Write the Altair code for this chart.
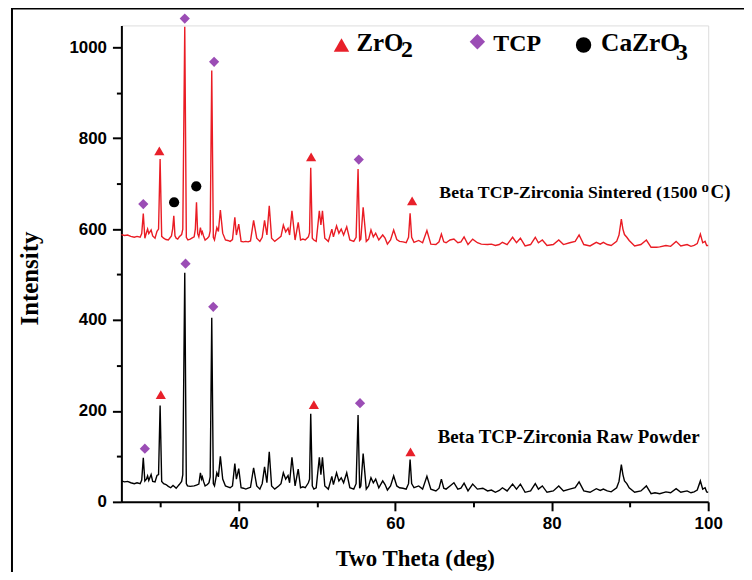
import altair as alt
import pandas as pd

# ---------------- data ----------------
raw_powder = [
    (25.0, 46), (25.4, 44), (25.8, 45), (26.2, 42), (26.65, 40), (27.0, 42), (27.4, 40), (27.6, 48),
    (27.8, 97), (28.0, 46), (28.2, 50), (28.35, 57), (28.5, 47), (28.8, 60), (29.0, 45), (29.3, 44),
    (29.55, 58), (29.75, 60), (29.95, 212), (30.15, 45), (30.4, 40), (30.7, 38), (31.0, 34), (31.3, 31),
    (31.6, 36), (31.8, 33), (32.0, 30), (32.2, 34), (32.4, 38), (32.7, 45), (32.85, 60), (33.1, 504),
    (33.3, 40), (33.45, 35), (33.8, 34), (34.3, 35), (34.6, 37), (34.9, 39), (35.1, 64), (35.25, 50),
    (35.35, 55), (35.5, 45), (35.7, 35), (36.0, 38), (36.2, 42), (36.35, 55), (36.55, 405), (36.75, 40),
    (36.9, 35), (37.2, 64), (37.4, 55), (37.65, 100), (37.95, 50), (38.3, 35), (38.6, 33), (38.9, 31),
    (39.2, 35), (39.5, 84), (39.7, 50), (40.0, 73), (40.3, 31), (40.6, 30), (40.9, 28), (41.2, 30),
    (41.5, 32), (41.9, 75), (42.3, 35), (42.7, 28), (43.0, 40), (43.3, 77), (43.6, 42), (43.9, 110),
    (44.2, 35), (44.6, 28), (45.1, 35), (45.4, 40), (45.7, 64), (46.0, 50), (46.3, 58), (46.5, 42),
    (46.8, 98), (47.2, 35), (47.6, 72), (47.9, 31), (48.2, 33), (48.5, 31), (48.9, 42), (49.05, 50),
    (49.2, 194), (49.4, 35), (49.6, 28), (49.9, 31), (50.3, 98), (50.5, 60), (50.7, 98), (51.0, 35),
    (51.45, 28), (51.9, 56), (52.1, 38), (52.5, 64), (52.8, 46), (53.1, 53), (53.4, 42), (53.8, 64),
    (54.2, 31), (54.7, 28), (55.0, 40), (55.25, 191), (55.45, 30), (55.6, 35), (55.9, 106), (56.3, 28),
    (56.6, 35), (56.9, 53), (57.2, 42), (57.5, 50), (57.9, 31), (58.4, 46), (58.7, 38), (59.0, 26),
    (59.4, 35), (59.8, 57), (60.2, 35), (60.55, 31), (61.0, 30), (61.4, 28), (61.7, 40), (61.9, 93),
    (62.1, 40), (62.4, 31), (63.0, 35), (63.5, 28), (64.05, 56), (64.55, 28), (65.2, 24), (65.6, 30),
    (65.9, 50), (66.2, 30), (66.5, 28), (67.0, 35), (67.5, 42), (68.0, 28), (68.4, 30), (68.8, 41),
    (69.3, 24), (69.9, 39), (70.5, 28), (71.2, 30), (71.8, 24), (72.3, 26), (72.8, 21), (73.3, 25),
    (73.7, 31), (74.3, 24), (75.0, 39), (75.5, 28), (76.0, 39), (76.6, 21), (77.3, 24), (77.9, 40),
    (78.3, 28), (78.8, 35), (79.4, 21), (80.2, 24), (80.9, 35), (81.5, 24), (82.3, 28), (83.0, 31),
    (83.5, 44), (84.1, 24), (84.9, 21), (85.7, 29), (86.2, 25), (86.6, 28), (87.1, 24), (87.6, 22),
    (88.3, 31), (88.6, 45), (88.9, 82), (89.1, 60), (89.3, 46), (89.6, 40), (89.9, 31), (90.6, 21),
    (91.4, 24), (92.1, 35), (92.7, 18), (93.2, 20), (93.8, 18), (94.6, 22), (95.2, 20), (95.9, 29),
    (96.5, 21), (97.3, 24), (97.8, 20), (98.2, 22), (98.6, 26), (99.0, 46), (99.3, 28), (99.6, 31),
    (99.8, 22), (100.0, 21),
]

sintered = [
    (25.0, 588), (25.4, 586), (25.8, 587), (26.2, 584), (26.65, 582), (27.0, 584), (27.4, 582), (27.6, 590),
    (27.8, 634), (28.0, 580), (28.2, 592), (28.35, 600), (28.5, 590), (28.8, 598), (29.0, 585), (29.3, 580),
    (29.55, 595), (29.75, 600), (29.95, 754), (30.15, 584), (30.4, 580), (30.7, 577), (31.0, 576), (31.4, 585),
    (31.55, 600), (31.7, 629), (31.85, 585), (32.0, 580), (32.2, 578), (32.4, 583), (32.7, 588), (32.85, 600),
    (33.1, 1045), (33.3, 582), (33.5, 576), (33.8, 578), (34.0, 580), (34.3, 583), (34.45, 600), (34.6, 659),
    (34.75, 590), (34.9, 583), (35.1, 603), (35.25, 590), (35.35, 594), (35.5, 585), (35.7, 576), (36.0, 580),
    (36.2, 584), (36.35, 596), (36.55, 949), (36.75, 582), (36.9, 576), (37.2, 603), (37.4, 595), (37.65, 642),
    (37.95, 591), (38.3, 576), (38.6, 575), (38.9, 573), (39.2, 577), (39.5, 626), (39.7, 587), (40.0, 611),
    (40.3, 573), (40.6, 572), (40.9, 573), (41.2, 572), (41.5, 574), (41.9, 619), (42.3, 580), (42.7, 573),
    (43.0, 582), (43.3, 619), (43.6, 587), (43.9, 651), (44.2, 580), (44.6, 573), (45.1, 580), (45.4, 584),
    (45.7, 609), (46.0, 594), (46.3, 602), (46.5, 587), (46.8, 640), (47.2, 576), (47.6, 615), (47.9, 576),
    (48.2, 578), (48.5, 576), (48.9, 583), (49.05, 592), (49.2, 735), (49.4, 580), (49.6, 576), (49.9, 573),
    (50.3, 640), (50.5, 609), (50.7, 640), (51.0, 580), (51.45, 573), (51.9, 600), (52.1, 583), (52.5, 607),
    (52.8, 591), (53.1, 600), (53.4, 587), (53.8, 605), (54.2, 576), (54.7, 573), (55.0, 582), (55.25, 732),
    (55.45, 575), (55.6, 578), (55.9, 648), (56.3, 573), (56.6, 578), (56.9, 598), (57.2, 583), (57.5, 591),
    (57.9, 576), (58.4, 587), (58.7, 580), (59.0, 567), (59.4, 576), (59.8, 598), (60.2, 577), (60.55, 573),
    (61.0, 572), (61.4, 570), (61.7, 582), (61.9, 635), (62.1, 582), (62.4, 571), (63.0, 575), (63.5, 570),
    (64.05, 597), (64.55, 567), (65.2, 566), (65.6, 572), (65.9, 589), (66.2, 572), (66.5, 570), (67.0, 576),
    (67.5, 578), (68.0, 570), (68.4, 572), (68.8, 583), (69.3, 566), (69.9, 578), (70.5, 570), (71.0, 567),
    (71.8, 566), (72.3, 567), (72.8, 564), (73.3, 566), (73.7, 571), (74.3, 566), (75.0, 582), (75.5, 570),
    (76.0, 580), (76.6, 563), (77.3, 566), (77.9, 582), (78.3, 570), (78.8, 576), (79.4, 564), (80.2, 566),
    (80.9, 576), (81.5, 566), (82.3, 570), (83.0, 573), (83.5, 587), (84.1, 566), (84.9, 563), (85.7, 571),
    (86.2, 567), (86.6, 571), (87.1, 566), (87.6, 564), (88.3, 573), (88.6, 587), (88.9, 622), (89.1, 600),
    (89.3, 588), (89.6, 582), (89.9, 575), (90.6, 563), (91.4, 566), (92.1, 576), (92.7, 560), (93.4, 560),
    (93.8, 561), (94.6, 564), (95.2, 562), (95.9, 573), (96.5, 563), (97.3, 566), (97.8, 562), (98.2, 564),
    (98.6, 568), (99.0, 589), (99.3, 570), (99.6, 573), (99.8, 564), (100.0, 564),
]

series_names = ["Sintered", "Raw"]
series_colors = ["#ea1c24", "#000000"]

phases = ["ZrO2", "TCP", "CaZrO3"]
phase_shapes = ["triangle-up", "diamond", "circle"]
phase_colors = ["#e8202a", "#9b4db5", "#000000"]

sint_marker_phase = ["TCP", "ZrO2", "CaZrO3", "TCP", "CaZrO3", "TCP", "ZrO2", "TCP", "ZrO2"]
sint_marker_x = [27.8, 29.85, 31.74, 33.1, 34.57, 36.85, 49.25, 55.34, 62.16]
sint_marker_y = [655, 772, 659, 1063, 694, 968, 759, 753, 662]

raw_marker_phase = ["TCP", "ZrO2", "TCP", "TCP", "ZrO2", "TCP", "ZrO2"]
raw_marker_x = [28.0, 30.04, 33.2, 36.74, 49.6, 55.5, 61.95]
raw_marker_y = [117, 236, 524, 429, 214, 217, 110]

# ---------------- tables ----------------
lines = pd.DataFrame(
    [{"x": x, "y": y, "series": "Sintered"} for x, y in sintered]
    + [{"x": x, "y": y, "series": "Raw"} for x, y in raw_powder]
)
markers = pd.DataFrame({
    "phase": sint_marker_phase + raw_marker_phase,
    "x": sint_marker_x + raw_marker_x,
    "y": sint_marker_y + raw_marker_y,
})

# legend / annotation layout (data coordinates)
legend_pts = pd.DataFrame({"phase": phases, "x": [53.13, 70.5, 84.07], "y": [1005, 1012, 1005]})
texts = pd.DataFrame({
    "t": ["ZrO", "2", "TCP", "CaZrO", "3"],
    "x": [55.04, 60.75, 72.54, 86.31, 95.9],
    "y": [992.8, 979.6, 992.8, 992.8, 972.4],
    "fs": [25, 24, 24, 25.5, 24],
})
notes = pd.DataFrame({
    "t": ["Beta TCP-Zirconia Sintered (1500", "o", "C)"],
    "x": [65.64, 99.15, 100.3],
    "y": [668.3, 680.5, 668.3],
    "fs": [17.8, 15, 19],
})
raw_note = pd.DataFrame({"t": ["Beta TCP-Zirconia Raw Powder"], "x": [65.42], "y": [128.4]})

xs = alt.Scale(domain=[25, 100], nice=False, zero=False)
ys = alt.Scale(domain=[0, 1048], nice=False, zero=False)

SERIF = "Liberation Serif"
SANS = "Liberation Sans"

x_major = alt.Axis(
    orient="bottom", values=[40, 60, 80, 100], format="d", grid=False,
    title="Two Theta (deg)", titleFont=SERIF, titleFontSize=23, titleFontWeight="bold",
    titleColor="black", titleBaseline="alphabetic", titleY=64, titleX=295, titleAlign="center",
    labelFont=SANS, labelFontSize=17, labelFontWeight="bold", labelColor="black",
    labelPadding=5, labelFlush=False, tickSize=9, tickWidth=2, tickColor="black",
    domainColor="black", domainWidth=2,
)
y_major = alt.Axis(
    orient="left", values=[0, 200, 400, 600, 800, 1000], format="d", grid=False,
    title="Intensity", titleFont=SERIF, titleFontSize=25, titleFontWeight="bold",
    titleColor="black", titleBaseline="alphabetic", titleX=-84.5, titleY=254, titleAngle=270,
    titleAlign="center",
    labelFont=SANS, labelFontSize=17, labelFontWeight="bold", labelColor="black",
    labelPadding=6, labelFlush=False, tickSize=9, tickWidth=2, tickColor="black",
    domainColor="black", domainWidth=2,
)
x_minor = alt.Axis(orient="bottom", values=[30, 50, 70, 90], labels=False, domain=False,
                   grid=False, title="", tickSize=5, tickWidth=2, tickColor="black")
y_minor = alt.Axis(orient="left", values=[100, 300, 500, 700, 900], labels=False, domain=False,
                   grid=False, title="", tickSize=5, tickWidth=2, tickColor="black")

trace = alt.Chart(lines).mark_line(strokeWidth=1.4).encode(
    x=alt.X("x:Q", scale=xs, axis=x_major),
    y=alt.Y("y:Q", scale=ys, axis=y_major),
    color=alt.Color("series:N", scale=alt.Scale(domain=series_names, range=series_colors), legend=None),
)

minor = alt.Chart(markers).mark_point(opacity=0).encode(
    x=alt.X("x:Q", scale=xs, axis=x_minor),
    y=alt.Y("y:Q", scale=ys, axis=y_minor),
)

shape_enc = alt.Shape("phase:N", scale=alt.Scale(domain=phases, range=phase_shapes), legend=None)
fill_enc = alt.Fill("phase:N", scale=alt.Scale(domain=phases, range=phase_colors), legend=None)

peak_marks = alt.Chart(markers).mark_point(filled=True, opacity=1, size=105, strokeWidth=0).encode(
    x=alt.X("x:Q", scale=xs, axis=None),
    y=alt.Y("y:Q", scale=ys, axis=None),
    shape=shape_enc, fill=fill_enc,
)

legend_marks = alt.Chart(legend_pts).mark_point(filled=True, opacity=1, size=240, strokeWidth=0).encode(
    x=alt.X("x:Q", scale=xs, axis=None),
    y=alt.Y("y:Q", scale=ys, axis=None),
    shape=shape_enc, fill=fill_enc,
)

legend_text = alt.Chart(texts).mark_text(
    font=SERIF, fontWeight="bold", align="left", baseline="alphabetic", color="black"
).encode(
    x=alt.X("x:Q", scale=xs, axis=None),
    y=alt.Y("y:Q", scale=ys, axis=None),
    text="t:N",
    size=alt.Size("fs:Q", scale=None),
)

note_text = alt.Chart(notes).mark_text(
    font=SERIF, fontWeight="bold", align="left", baseline="alphabetic", color="black"
).encode(
    x=alt.X("x:Q", scale=xs, axis=None),
    y=alt.Y("y:Q", scale=ys, axis=None),
    text="t:N",
    size=alt.Size("fs:Q", scale=None),
)

raw_text = alt.Chart(raw_note).mark_text(
    font=SERIF, fontSize=19, fontWeight="bold", align="left", baseline="alphabetic", color="black"
).encode(
    x=alt.X("x:Q", scale=xs, axis=None),
    y=alt.Y("y:Q", scale=ys, axis=None),
    text="t:N",
)

frame = alt.Chart(pd.DataFrame({"k": [0]})).mark_rect(
    fillOpacity=0, stroke="black", strokeWidth=2
).encode(
    x=alt.value(-110), x2=alt.value(660), y=alt.value(-17), y2=alt.value(600),
)

chart = alt.layer(
    trace, minor, peak_marks, legend_marks, legend_text, note_text, raw_text, frame
).resolve_scale(
    color="independent", fill="independent", size="independent"
).resolve_axis(
    x="independent", y="independent"
).properties(
    width=590, height=479,
    autosize=alt.AutoSizeParams(type="none"),
    padding={"left": 114, "top": 16, "right": 36, "bottom": 69},
).configure_view(stroke=None).configure(background="white")

chart.save("out.html", embed_options={"renderer": "svg", "actions": False})
